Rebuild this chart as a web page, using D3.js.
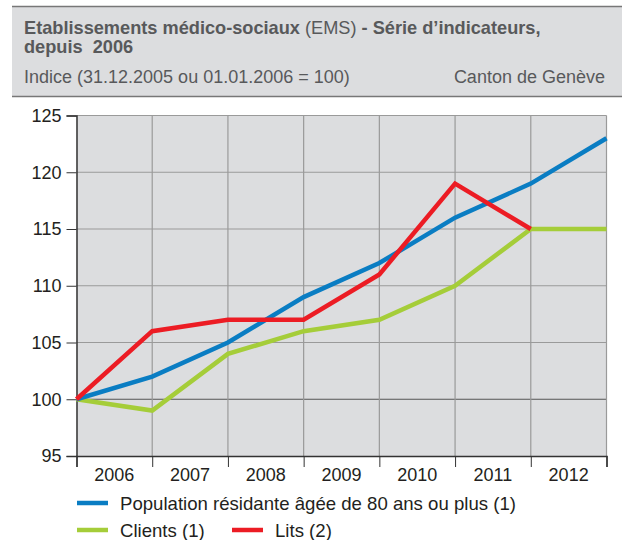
<!DOCTYPE html>
<html>
<head>
<meta charset="utf-8">
<script src="https://cdn.jsdelivr.net/npm/d3@7"></script>
<style>
  body { margin: 0; background: #fff; }
  svg text { font-family: "Liberation Sans", Arial, sans-serif; }
</style>
</head>
<body>
<svg id="chart" width="622" height="540"></svg>
<script>
// data
const years = ['2006', '2007', '2008', '2009', '2010', '2011', '2012'];
const population = [100, 102, 105, 109, 112, 116, 119, 123];
const clients = [100, 99, 104, 106, 107, 110, 115, 115];
const lits = [100, 106, 107, 107, 111, 119, 115];
const yTicks = [95, 100, 105, 110, 115, 120, 125];

const series = [
  { name: 'Population résidante âgée de 80 ans ou plus (1)', values: population, color: '#0a7dc3' },
  { name: 'Clients (1)', values: clients, color: '#a5cd39' },
  { name: 'Lits (2)', values: lits, color: '#ec1c24' }
];

const FONT = '"Liberation Sans", Arial, sans-serif';
const svg = d3.select('#chart');
const margin = { left: 76.5, right: 606.5, top: 115.5, bottom: 456 };

// header band
svg.append('rect').attr('x', 12).attr('y', 6).attr('width', 610).attr('height', 91).attr('fill', '#dcdddf');
svg.append('line').attr('x1', 12).attr('x2', 622).attr('y1', 6.5).attr('y2', 6.5).attr('stroke', '#777').attr('stroke-width', 1.5);
svg.append('line').attr('x1', 12).attr('x2', 622).attr('y1', 96.5).attr('y2', 96.5).attr('stroke', '#777').attr('stroke-width', 1.5);

const title = svg.append('text').attr('x', 24).attr('y', 34).attr('font-size', 18.2).attr('fill', '#58595b');
title.append('tspan').attr('font-weight', 'bold').text('Etablissements médico-sociaux');
title.append('tspan').text(' (EMS) ');
title.append('tspan').attr('font-weight', 'bold').text('- Série d’indicateurs,');
svg.append('text').attr('x', 24).attr('y', 53).attr('font-size', 18.2).attr('font-weight', 'bold').attr('fill', '#58595b')
  .attr('xml:space', 'preserve').text('depuis  2006');
svg.append('text').attr('x', 24).attr('y', 83).attr('font-size', 18).attr('fill', '#58595b')
  .text('Indice (31.12.2005 ou 01.01.2006 = 100)');
svg.append('text').attr('x', 605).attr('y', 83).attr('font-size', 18).attr('fill', '#58595b')
  .attr('text-anchor', 'end').text('Canton de Genève');

// scales
const x = d3.scaleLinear().domain([0, years.length]).range([margin.left, margin.right]);
const y = d3.scaleLinear().domain([95, 125]).range([margin.bottom, margin.top]);

// plot background
svg.append('rect')
  .attr('x', x(0)).attr('y', y(125))
  .attr('width', x(years.length) - x(0)).attr('height', y(95) - y(125))
  .attr('fill', '#dcdddf');

// horizontal grid
svg.append('g').selectAll('line')
  .data(yTicks.filter(d => d > 95))
  .join('line')
  .attr('x1', x(0)).attr('x2', x(years.length))
  .attr('y1', d => y(d)).attr('y2', d => y(d))
  .attr('stroke', d => d === 100 ? '#555' : '#9a9a9a')
  .attr('stroke-width', 1.2);

// vertical grid
svg.append('g').selectAll('line')
  .data(d3.range(1, years.length + 1))
  .join('line')
  .attr('x1', d => x(d)).attr('x2', d => x(d))
  .attr('y1', y(125)).attr('y2', y(95))
  .attr('stroke', '#9a9a9a')
  .attr('stroke-width', 1.2);

// y axis
const yAxis = svg.append('g')
  .attr('transform', `translate(${x(0)},0)`)
  .call(d3.axisLeft(y).tickValues(yTicks).tickSize(10).tickPadding(5));
yAxis.select('.domain').attr('stroke', '#333').attr('stroke-width', 1.5);
yAxis.selectAll('.tick line').attr('stroke', '#333');
yAxis.selectAll('.tick text').attr('font-size', 18).attr('fill', '#231f20')
  .style('font-family', FONT);

// x axis
const xAxis = svg.append('g')
  .attr('transform', `translate(0,${y(95)})`)
  .call(d3.axisBottom(x).tickValues(d3.range(0, years.length + 1)).tickSize(11).tickFormat(''));
xAxis.select('.domain').attr('stroke', '#333').attr('stroke-width', 1.5);
xAxis.selectAll('.tick line').attr('stroke', '#333');
svg.append('g').selectAll('text')
  .data(years)
  .join('text')
  .attr('x', (d, i) => (x(i) + x(i + 1)) / 2)
  .attr('y', y(95) + 25)
  .attr('text-anchor', 'middle')
  .attr('font-size', 18)
  .attr('fill', '#231f20')
  .text(d => d);

// lines
const line = d3.line().x((d, i) => x(i)).y(d => y(d));
svg.append('g').selectAll('path')
  .data([series[1], series[0], series[2]])
  .join('path')
  .attr('d', d => line(d.values))
  .attr('fill', 'none')
  .attr('stroke', d => d.color)
  .attr('stroke-width', 4.5)
  .attr('stroke-linejoin', 'miter');

// legend
const legendPos = [
  { x: 77, y: 503 },
  { x: 77, y: 530 },
  { x: 232, y: 530 }
];
const legend = svg.append('g').selectAll('g')
  .data(series)
  .join('g')
  .attr('transform', (d, i) => `translate(${legendPos[i].x},${legendPos[i].y})`);
legend.append('line')
  .attr('x1', 0).attr('x2', 31)
  .attr('stroke', d => d.color)
  .attr('stroke-width', 4.5);
legend.append('text')
  .attr('x', 43).attr('y', 6.5)
  .attr('font-size', 18.6)
  .attr('fill', '#231f20')
  .text(d => d.name);
</script>
</body>
</html>
